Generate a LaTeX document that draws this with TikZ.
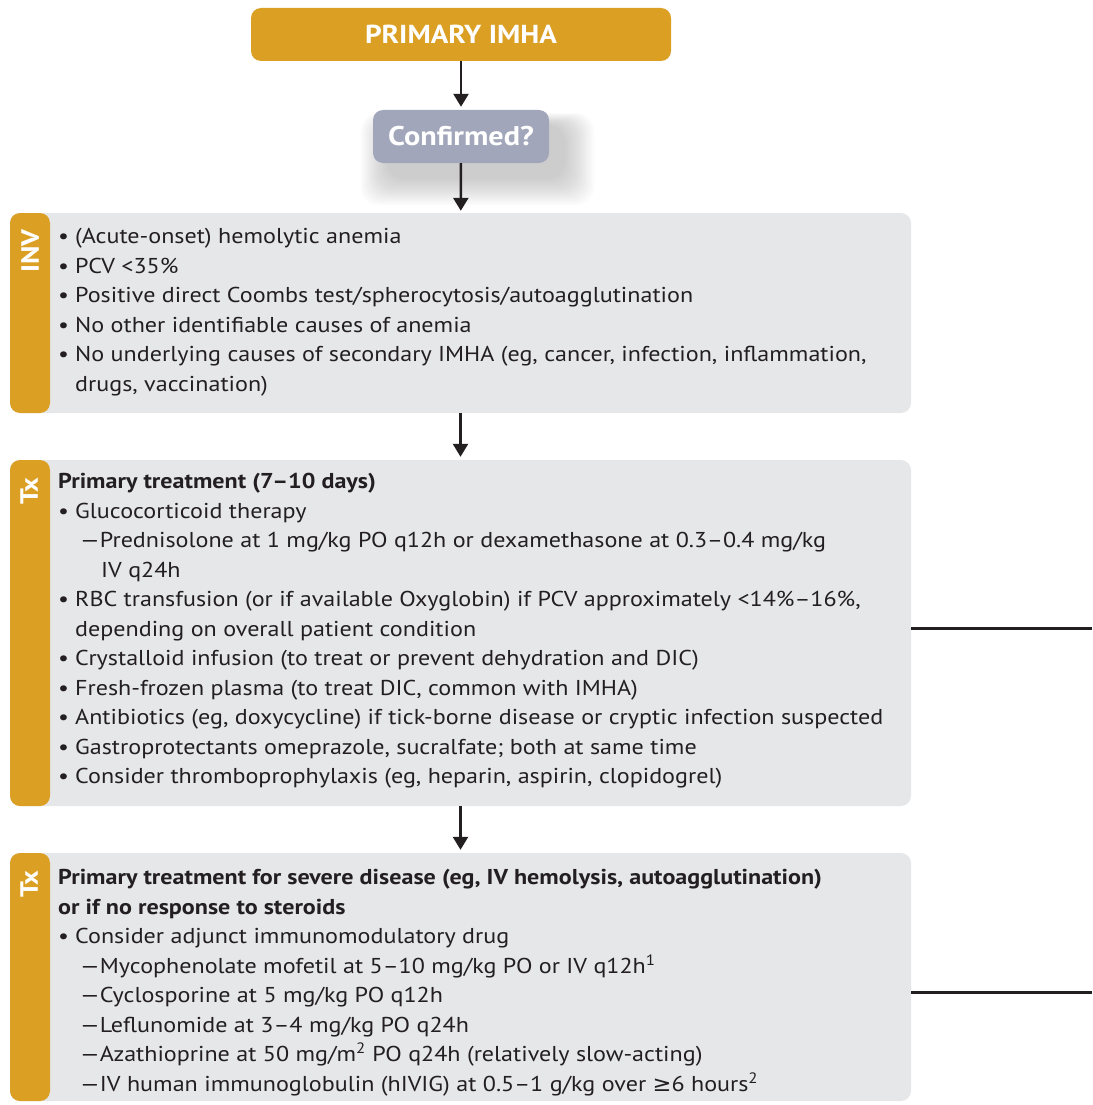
\documentclass[tikz,border=0pt]{standalone}
\usepackage{fontspec}
\setmainfont[FakeStretch=1.12]{PT Sans}
\newfontfamily\symfont[FakeStretch=1.05]{DejaVu Sans}
\usetikzlibrary{arrows.meta,backgrounds}
\definecolor{imhagold}{RGB}{219,159,36}
\definecolor{imhagray}{RGB}{230,231,233}
\definecolor{imhablue}{RGB}{161,166,186}
\definecolor{imhatext}{RGB}{35,31,32}
\newcommand{\bul}{\makebox[17pt][l]{•}}
\newcommand{\dsh}{\hspace*{22pt}—}
\begin{document}
\begin{tikzpicture}[x=1pt,y=-1pt,
  panel/.style={fill=imhagray,rounded corners=10pt,minimum width=901pt,inner sep=0pt,
    path picture={\fill[imhagold] (path picture bounding box.north west) rectangle ([xshift=40pt]path picture bounding box.south west);}},
  sidelbl/.style={rotate=90,text=white,font=\fontsize{25}{25}\selectfont\bfseries},
  txt/.style={anchor=north west,inner sep=0pt,align=left,text=imhatext,font=\fontsize{21.5}{29.5}\selectfont},
  arr/.style={draw=imhatext,line width=2.5pt,-{Triangle[width=15pt,length=13pt]}},
  conn/.style={draw=imhatext,line width=3pt}]
\useasboundingbox (0,0) rectangle (1092,1105);
%%\draw[help lines] (0,0) grid[step=50pt] (1092,1105);
\node [fill=imhagold,rounded corners=10pt,minimum width=420pt,minimum height=53pt,text=white,font=\fontsize{26}{26}\selectfont\bfseries] (head) at (461,34.5) {PRIMARY IMHA};
\node [fill=imhablue,rounded corners=10pt,minimum width=176pt,minimum height=53pt,text=white,font=\fontsize{27}{27}\selectfont\bfseries] (conf) at (461,136.5) {Confirmed?};
\begin{scope}[on background layer]
\foreach \s in {1,...,14}
  \fill[black,opacity=0.014,rounded corners=18pt] ([shift={(16pt-\s*2pt,-14pt-\s*2pt)}]conf.south west) rectangle ([shift={(14pt+\s*2.2pt,-16pt+\s*0.9pt)}]conf.north east);
\end{scope}
% investigation
\node [panel,minimum height=200pt] (inv) at (460.5,313) {};
\node [sidelbl] (invlbl) at (30,251) {INV};
\node [txt] (invtxt) at (58,228) {\bul(Acute-onset) hemolytic anemia\\
\bul PCV <35\%\\
\bul Positive direct Coombs test/spherocytosis/autoagglutination\\
\bul No other identifiable causes of anemia\\
\bul No underlying causes of secondary IMHA (eg, cancer, infection, inflammation,\\
\hspace*{17pt}drugs, vaccination)};
% treatment
\node [panel,minimum height=346pt] (tx1) at (460.5,633) {};
\node [sidelbl] (tx1lbl) at (29,491) {Tx};
\node [txt] (tx1txt) at (58,473) {\textbf{Primary treatment (7–10 days)}\\
\bul Glucocorticoid therapy\\
\dsh Prednisolone at 1 mg/kg PO q12h or dexamethasone at 0.3–0.4 mg/kg\\
\hspace*{43pt}IV q24h\\
\bul RBC transfusion (or if available Oxyglobin) if PCV approximately <14\%–16\%,\\
\hspace*{17pt}depending on overall patient condition\\
\bul Crystalloid infusion (to treat or prevent dehydration and DIC)\\
\bul Fresh-frozen plasma (to treat DIC, common with IMHA)\\
\bul Antibiotics (eg, doxycycline) if tick-borne disease or cryptic infection suspected\\
\bul Gastroprotectants omeprazole, sucralfate; both at same time\\
\bul Consider thromboprophylaxis (eg, heparin, aspirin, clopidogrel)};
\node [panel,minimum height=248pt] (tx2) at (460.5,977) {};
\node [sidelbl] (tx2lbl) at (29,884) {Tx};
\node [txt] (tx2txt) at (58,869) {\textbf{Primary treatment for severe disease (eg, IV hemolysis, autoagglutination)}\\
\textbf{or if no response to steroids}\\
\bul Consider adjunct immunomodulatory drug\\
\dsh Mycophenolate mofetil at 5–10 mg/kg PO or IV q12h\textsuperscript{1}\\
\dsh Cyclosporine at 5 mg/kg PO q12h\\
\dsh Leflunomide at 3–4 mg/kg PO q24h\\
\dsh Azathioprine at 50 mg/m\textsuperscript{2} PO q24h (relatively slow-acting)\\
\dsh IV human immunoglobulin (hIVIG) at 0.5–1 g/kg over {\symfont ≥}6 hours\textsuperscript{2}};
% arrows
\draw [arr,shorten >=3pt] (head) -- (conf);
\draw [arr,shorten >=2pt] (conf) -- (inv);
\draw [arr,shorten >=3pt] (inv) -- (tx1);
\draw [arr,shorten >=3pt] (tx1) -- (tx2);
\coordinate (rt1) at (1092,628);
\coordinate (rt2) at (1092,992);
\draw [conn] (tx1.east |- rt1) -- (rt1);
\draw [conn] (tx2.east |- rt2) -- (rt2);
\end{tikzpicture}
\end{document}
